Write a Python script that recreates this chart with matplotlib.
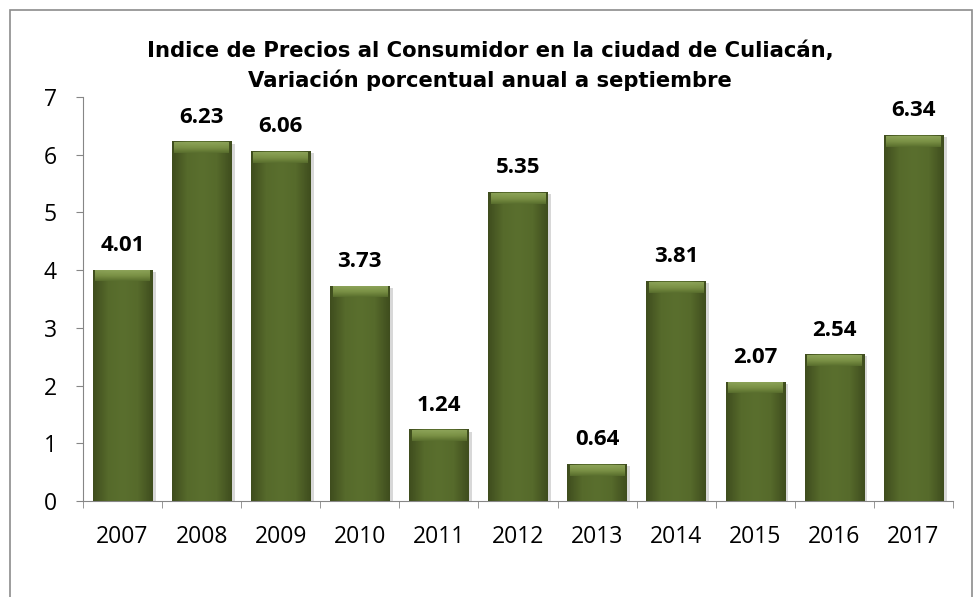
import numpy as np
import matplotlib
matplotlib.use('Agg')
import matplotlib.pyplot as plt
from matplotlib.patches import Rectangle
from matplotlib.colors import LinearSegmentedColormap
import matplotlib.patheffects as pe

years  = ['2007', '2008', '2009', '2010', '2011', '2012', '2013', '2014', '2015', '2016', '2017']
values = [4.01, 6.23, 6.06, 3.73, 1.24, 5.35, 0.64, 3.81, 2.07, 2.54, 6.34]
title  = 'Indice de Precios al Consumidor en la ciudad de Culiacán,\nVariación porcentual anual a septiembre'

plt.rcParams['font.family'] = ['Open Sans', 'DejaVu Sans']

fig = plt.figure(figsize=(9.74, 5.97), dpi=100)
ax = fig.add_axes([0.0852, 0.1608, 0.8932, 0.6767])

# outer chart border
fig.patches.append(Rectangle((10/974, -0.02), 962/974, 1.02 - 10/597, transform=fig.transFigure,
                             fill=False, edgecolor='#8c8c8c', linewidth=1.2))

x = np.arange(len(years))
bars = ax.bar(x, values, width=0.75, color='#566a2b', edgecolor='none', zorder=2,
              path_effects=[pe.SimplePatchShadow(offset=(2.5, -1.5), shadow_rgbFace='#aaaaaa', alpha=0.45), pe.Normal()])

# horizontal shading + top bevel on each bar
shade = LinearSegmentedColormap.from_list('olive', ['#3f4d1e', '#566a2b', '#5a6f2e', '#566a2b', '#3f4d1e'])
grad = np.linspace(0, 1, 100).reshape(1, -1)
bevel = LinearSegmentedColormap.from_list('bevel', ['#5a6f2e', '#7f9649', '#93aa5e'])
vgrad = np.linspace(0, 1, 50).reshape(-1, 1)
for b, v in zip(bars, values):
    x0, w = b.get_x(), b.get_width()
    im = ax.imshow(grad, cmap=shade, aspect='auto', extent=(x0, x0 + w, 0, v), zorder=3)
    im.set_clip_path(b)
    ax.imshow(vgrad, cmap=bevel, aspect='auto', origin='lower',
              extent=(x0 + w * 0.04, x0 + w * 0.96, v - 0.2, v - 0.01), zorder=4, alpha=0.9)
    ax.annotate(f'{v:.2f}', (b.get_x() + w / 2, v), xytext=(0, 10), textcoords='offset points',
                ha='center', va='bottom', fontsize=16, fontweight='bold', color='black')

ax.set_xlim(-0.5, len(years) - 0.5)
ax.set_ylim(0, 7)
ax.set_yticks(range(0, 8))
ax.set_xticks(x)
ax.set_xticklabels(years)
ax.set_xticks(np.arange(-0.5, len(years), 1), minor=True)
ax.tick_params(axis='x', which='major', length=0, pad=17, labelsize=16.5)
ax.tick_params(axis='x', which='minor', length=5, color='#868686')
ax.tick_params(axis='y', length=5, color='#868686', labelsize=16.5, pad=14)
for s in ['top', 'right']:
    ax.spines[s].set_visible(False)
for s in ['left', 'bottom']:
    ax.spines[s].set_color('#868686')

fig.text(0.503, 0.89, title, ha='center', va='center', fontsize=15.2, fontweight='bold',
         family='DejaVu Sans', linespacing=1.5)

fig.savefig('out.png', dpi=100)
